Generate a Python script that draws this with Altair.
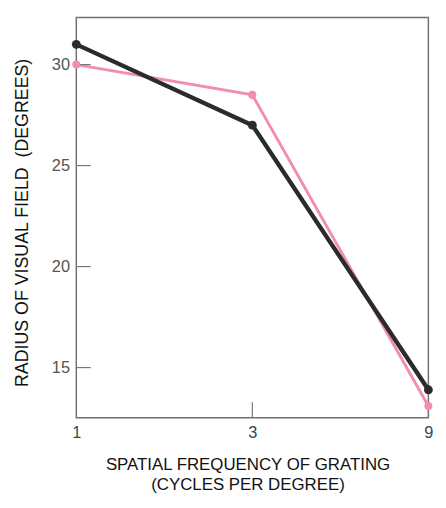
import altair as alt
import pandas as pd

freq = [1, 3, 9]
black_vals = [31.0, 27.0, 13.9]
pink_vals = [30.0, 28.5, 13.1]
y_tick_vals = [15, 20, 25, 30]
x_tick_vals = [1, 3, 9]
x_up_ticks = [3, 9]

pink_df = pd.DataFrame({"freq": freq, "radius": pink_vals})
black_df = pd.DataFrame({"freq": freq, "radius": black_vals})
ytick_df = pd.DataFrame({"radius": y_tick_vals})
xtick_df = pd.DataFrame({"freq": x_up_ticks})

W, H = 366, 416
FONT = "Liberation Sans"

xscale = alt.Scale(type="log", base=3, domain=[1, 9], nice=False)
yscale = alt.Scale(domain=[12.52, 32.33], nice=False, zero=False)

x_axis = alt.Axis(
    values=x_tick_vals, format="d", ticks=False, domain=False, grid=False,
    labelFontSize=17, labelColor="#444", labelFont=FONT, labelPadding=8,
    labelFlush=False, labelAngle=0, labelOverlap=False,
    title=["SPATIAL FREQUENCY OF GRATING", "(CYCLES PER DEGREE)"],
    titleFont=FONT, titleFontSize=17.5, titleFontWeight="normal", titleColor="#111",
    titlePadding=16, titleLineHeight=21, titleX=178,
)
y_axis = alt.Axis(
    values=y_tick_vals, ticks=False, domain=False, grid=False,
    labelFontSize=17, labelColor="#555", labelFont=FONT, labelPadding=7,
    title="RADIUS OF VISUAL FIELD \u00a0(DEGREES)",
    titleFont=FONT, titleFontSize=18.5, titleFontWeight="normal", titleColor="#111",
    titlePadding=21, titleY=213,
)

X = alt.X("freq:Q", scale=xscale, axis=x_axis)
Y = alt.Y("radius:Q", scale=yscale, axis=y_axis)

pink_line = alt.Chart(pink_df).mark_line(color="#f28cb3", strokeWidth=3).encode(x=X, y=Y)
pink_pts = alt.Chart(pink_df).mark_circle(color="#f28cb3", size=70, opacity=1).encode(x=X, y=Y)
black_line = alt.Chart(black_df).mark_line(color="#2b2b2b", strokeWidth=4.5).encode(x=X, y=Y)
black_pts = alt.Chart(black_df).mark_circle(color="#2b2b2b", size=85, opacity=1).encode(x=X, y=Y)

yt = alt.Chart(ytick_df).mark_rule(color="#777", strokeWidth=1.2).encode(
    y=Y, x=alt.value(0), x2=alt.value(15))
xt = alt.Chart(xtick_df).mark_rule(color="#777", strokeWidth=1.2).encode(
    x=X, y=alt.value(H), y2=alt.value(H - 16))

chart = alt.layer(pink_line, black_line, yt, xt, pink_pts, black_pts).properties(
    width=W, height=H,
    autosize=alt.AutoSizeParams(type="none"),
    padding={"left": 71, "top": 0, "right": 10, "bottom": 84},
).configure(
    background="white",
    view=alt.ViewConfig(stroke="#707070", strokeWidth=1.5),
)

chart.save("out.html", embed_options={"renderer": "svg", "actions": False})
